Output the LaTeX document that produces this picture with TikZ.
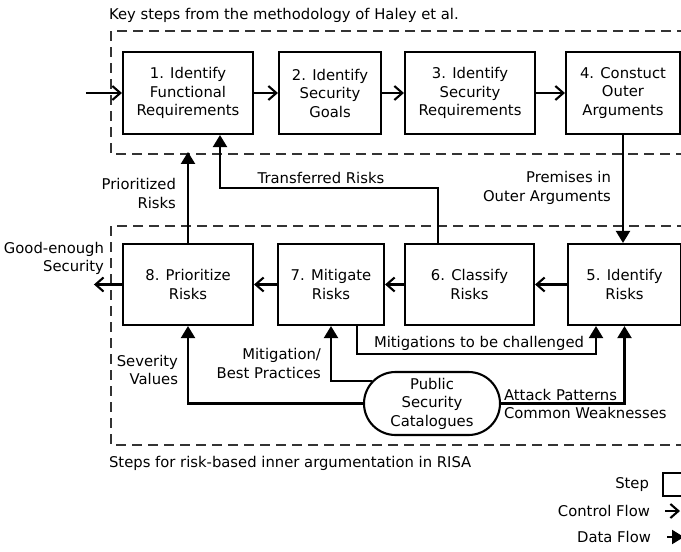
\documentclass[tikz,border=0pt]{standalone}
\usepackage{fontspec}
\setmainfont{DejaVu Sans}
\usetikzlibrary{positioning,calc,arrows.meta,shapes.misc}

\begin{document}
\begin{tikzpicture}[x=1pt,y=-1pt,node distance=10pt,on grid,
  font=\fontsize{14.8}{18.5}\selectfont,line width=2.1pt,
  stepbox/.style={draw,rectangle,minimum height=82pt,align=center,inner sep=0pt},
  ctrl/.style={-{Straight Barb[length=8pt,width=14pt]}},
  data/.style={-{Triangle[length=12pt,width=14pt]}},
  dashframe/.style={draw=black!80,line width=1.3pt,dash pattern=on 10pt off 6pt},
  lbl/.style={inner sep=0pt,align=right}]
\useasboundingbox (0,0) rectangle (681,552);
\draw[dashframe] (111,31) rectangle (700,154);
\draw[dashframe] (111,226) rectangle (700,445);
\node[anchor=west,inner sep=0pt](thaley) at (108,15) {Key steps from the methodology of Haley et al.};
\node[anchor=west,inner sep=0pt](trisa) at (108,463) {Steps for risk-based inner argumentation in RISA};
\node[stepbox,minimum width=130pt](q1) at (188,93) {1. Identify\\Functional\\Requirements};
\node[stepbox,minimum width=102pt](q2)[right=142pt of q1] {2. Identify\\Security\\Goals};
\node[stepbox,minimum width=130pt](q3)[right=140pt of q2] {3. Identify\\Security\\Requirements};
\node[stepbox,minimum width=114pt](q4)[right=153pt of q3] {4. Constuct\\Outer\\Arguments};
\node[stepbox,minimum width=130pt,minimum height=81pt](q8)[below=191.5pt of q1] {8. Prioritize\\Risks};
\node[stepbox,minimum width=106pt,minimum height=81pt](q7)[right=143pt of q8] {7. Mitigate\\Risks};
\node[stepbox,minimum width=129pt,minimum height=81pt](q6)[right=138.5pt of q7] {6. Classify\\Risks};
\node[stepbox,minimum width=113pt,minimum height=81pt](q5)[right=155pt of q6] {5. Identify\\Risks};
\node[draw,rounded rectangle,minimum width=136pt,minimum height=63pt,align=center,inner sep=0pt](cat) at (432,403.5) {Public\\Security\\Catalogues};
\node[coordinate](q_in)[left=36pt of q1.west]{};
\node[coordinate](q_out)[left=28pt of q8.west]{};
\node[coordinate](q_haley)[above=91pt of q8.north]{};
\draw[ctrl] (q_in) -- (q1);
\draw[ctrl] (q1) -- (q2);
\draw[ctrl] (q2) -- (q3);
\draw[ctrl] (q3) -- (q4);
\draw[ctrl] (q5) -- (q6);
\draw[ctrl] (q6) -- (q7);
\draw[ctrl] (q7) -- (q8);
\draw[ctrl] (q8) -- (q_out);
\draw[data] (q4) -- (q4 |- q5.north);
\draw[data] (q8) -- (q_haley);
\draw[data] ([xshift=-31.5pt]q6.north) -- ++(0,-55) -| ([xshift=32pt]q1.south);
\draw[data] ([xshift=26pt]q7.south) -- ++(0,28) -| ([xshift=-28.5pt]q5.south);
\draw[data] (cat) -| (q8);
\draw[data] (cat.159) -| (q7);
\draw[data] (cat) -| (q5);
\node[lbl,anchor=east](lprem) at (612,188) {Premises in\\Outer Arguments};
\node[lbl,anchor=east](lgood) at (105,258.5) {Good-enough\\Security};
\node[lbl,anchor=east](lprio) at (177,193.5) {Prioritized\\Risks};
\node[inner sep=0pt](ltrans) at (321,178) {Transferred Risks};
\node[inner sep=0pt](lmitc) at (479,343) {Mitigations to be challenged};
\node[lbl,anchor=east](lsev) at (179,370) {Severity\\Values};
\node[lbl,anchor=east](lmitbp) at (322,363.5) {Mitigation/\\Best Practices};
\node[lbl,align=left,anchor=west](lattack) at (503,404) {Attack Patterns\\Common Weaknesses};
\node[anchor=east,inner sep=0pt](lstep) at (650,485) {Step};
\node[draw,minimum width=26pt,minimum height=23pt,anchor=west,inner sep=0pt](kstep) at (662,484.5) {};
\node[anchor=east,inner sep=0pt](lctrl) at (651,511) {Control Flow};
\node[coordinate](kc1) at (665,511){};
\node[coordinate](kc2) at (680,511){};
\draw[ctrl] (kc1) -- (kc2);
\node[anchor=east,inner sep=0pt](ldata) at (652,537) {Data Flow};
\node[coordinate](kd1) at (667,537){};
\node[coordinate](kd2) at (684,537){};
\draw[data] (kd1) -- (kd2);
\end{tikzpicture}
\end{document}
